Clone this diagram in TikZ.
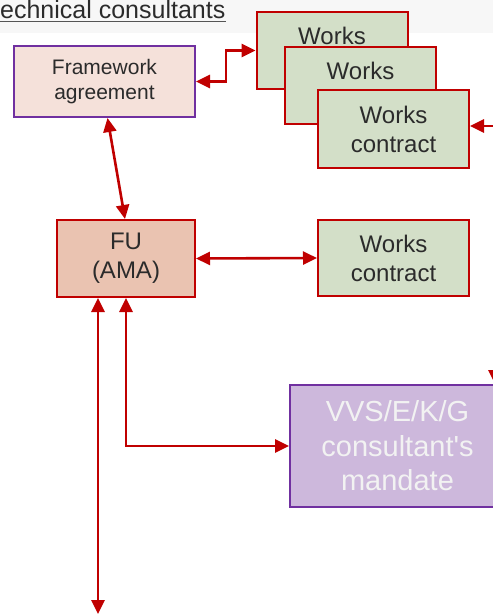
\documentclass[tikz,border=0pt]{standalone}
\usepackage{fontspec}
\setmainfont{Liberation Sans}
\newfontfamily\vvsfont{Liberation Sans}[Ligatures=TeXOff]
\usetikzlibrary{arrows.meta}
\definecolor{cred}{HTML}{C00000}
\definecolor{cpurple}{HTML}{7030A0}
\definecolor{fwfill}{HTML}{F5E1DA}
\definecolor{fufill}{HTML}{EAC3B1}
\definecolor{gfill}{HTML}{D3DFC8}
\definecolor{vfill}{HTML}{CDB8DC}
\definecolor{txt}{HTML}{2B2B2B}
\definecolor{band}{HTML}{F7F7F7}
\tikzset{
  box/.style={draw, rectangle, line width=2pt, inner sep=0pt, align=center, text=txt},
  greenbox/.style={box, draw=cred, fill=gfill, minimum width=151pt, font=\fontsize{24}{29}\selectfont},
  conn/.style={draw=cred, line width=2.6pt, {Triangle[length=14pt,width=13pt]}-{Triangle[length=14pt,width=13pt]}},
  conn1/.style={draw=cred, line width=2.6pt, -{Triangle[length=14pt,width=13pt]}}
}
\begin{document}
\begin{tikzpicture}[x=1pt,y=-1pt]
\useasboundingbox (0,0) rectangle (493,614);
\clip (0,0) rectangle (493,614);
\fill[white] (0,0) rectangle (493,614);
\fill[band] (0,0) rectangle (493,33);
% title
\node[anchor=base west, inner sep=0pt, font=\fontsize{25}{30}\selectfont, text=txt] (title) at (0,18.5) {echnical consultants};
\draw[line width=1.5pt, color=txt!80] ([yshift=-3pt]title.base west) -- ([yshift=-3pt]title.base east);
% boxes
\node[box, draw=cpurple, fill=fwfill, minimum width=181pt, minimum height=71pt, font=\fontsize{21}{25}\selectfont] (fw) at (104.5,81.5) {Framework\\agreement};
\node[greenbox, minimum height=77pt] (b1) at (332,50.5) {Works\\\phantom{contract}};
\node[greenbox, minimum height=77pt] (b2) at (360.5,85.5) {Works\\\phantom{contract}};
\node[greenbox, minimum height=78pt] (b3) at (393.5,129) {Works\\contract};
\node[box, draw=cred, fill=fufill, minimum width=138pt, minimum height=77pt, font=\fontsize{24}{29}\selectfont] (fu) at (126,258.5) {FU\\(AMA)};
\node[greenbox, minimum height=76pt] (b4) at (393.5,258) {Works\\contract};
\node[box, draw=cpurple, fill=vfill, text=white!95!black, minimum width=215pt, minimum height=122pt, font=\vvsfont\fontsize{29}{34.5}\selectfont] (vvs) at (397.5,446) {VVS/E/K/G\\consultant's\\mandate};
% connectors
\draw[conn] (fw.east) -- ++(30,0) |- (b1.west);
\coordinate (r3) at (500,126);
\draw[conn1] (r3) -- (b3.east |- r3);
\draw[conn] ([xshift=3pt]fw.south) -- ([xshift=-1pt]fu.north);
\draw[conn] (fu.east) -- (b4.west);
\coordinate (bot) at (98,614);
\draw[conn] (fu.south -| bot) -- (bot);
\draw[conn] (fu.south) |- (vvs.west);
\coordinate (o1) at (495,330);
\coordinate (o2) at (495,384);
\draw[conn1] (o1) -- (o2);
\end{tikzpicture}
\end{document}
